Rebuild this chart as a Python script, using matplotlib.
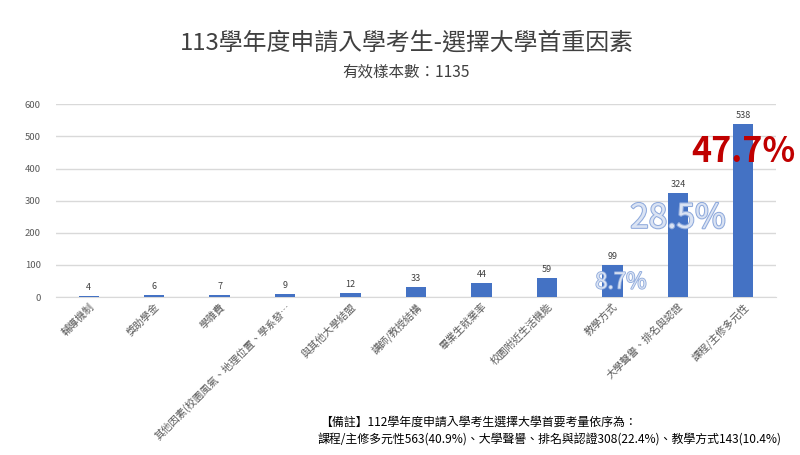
import matplotlib
matplotlib.use("Agg")
import matplotlib.pyplot as plt
import matplotlib.patheffects as pe

plt.rcParams['font.family'] = ['Noto Sans CJK TC', 'DejaVu Sans']

# ===== data =====
categories = ["輔導機制", "獎助學金", "學雜費", "其他因素(校園風氣、地理位置、學系發…",
              "與其他大學結盟", "講師/教授結構", "畢業生就業率", "校園附近生活機能",
              "教學方式", "大學聲譽、排名與認證", "課程/主修多元性"]
counts = [4, 6, 7, 9, 12, 33, 44, 59, 99, 324, 538]
pct_labels = ["8.7%", "28.5%", "47.7%"]
pct_index = [8, 9, 10]
pct_y = [47, 245, 452]

title = "113學年度申請入學考生-選擇大學首重因素"
subtitle = "有效樣本數：1135"
note1 = "【備註】112學年度申請入學考生選擇大學首要考量依序為："
note2 = "課程/主修多元性563(40.9%)、大學聲譽、排名與認證308(22.4%)、教學方式143(10.4%)"

# ===== plot =====
fig = plt.figure(figsize=(8, 4.55), dpi=100)
ax = fig.add_axes([0.07, 0.347, 0.9, 0.424])

x = range(len(categories))
bars = ax.bar(x, counts, width=0.31, color="#4472C4", zorder=3)
for b, v in zip(bars, counts):
    ax.text(b.get_x() + b.get_width() / 2, v + 12, str(v), ha="center", va="bottom",
            fontsize=6.5, color="#404040")

ax.set_xlim(-0.5, len(categories) - 0.5)
ax.set_ylim(0, 600)
ax.set_yticks(range(0, 601, 100))
ax.tick_params(axis="y", length=0, labelsize=6.8, labelcolor="#595959", pad=11)
ax.tick_params(axis="x", length=0, pad=3)
ax.set_xticks(list(x))
ax.set_xticklabels(categories, rotation=45, ha="right", va="top", rotation_mode="anchor",
                   fontsize=7.4, color="#595959")
ax.grid(axis="y", color="#D9D9D9", linewidth=1, zorder=0)
for s in ["top", "right", "left"]:
    ax.spines[s].set_visible(False)
ax.spines["bottom"].set_color("#D9D9D9")

# big percentage labels
ax.text(pct_index[2], pct_y[2], pct_labels[2], ha="center", va="center", fontsize=24.5,
        fontweight="bold", color="#C00000", zorder=5)
ax.text(pct_index[1], pct_y[1], pct_labels[1], ha="center", va="center", fontsize=24,
        color="#DAE3F3", zorder=5,
        path_effects=[pe.withStroke(linewidth=1.5, foreground="#8FAADC")])
ax.text(pct_index[0] + 0.13, pct_y[0], pct_labels[0], ha="center", va="center", fontsize=16,
        color="#DAE3F3", zorder=5,
        path_effects=[pe.withStroke(linewidth=1.2, foreground="#8FAADC")])

fig.text(0.508, 0.905, title, ha="center", va="center", fontsize=17.2, color="#404040")
fig.text(0.508, 0.842, subtitle, ha="center", va="center", fontsize=11.2, color="#404040")
fig.text(0.4, 0.073, note1, ha="left", va="center", fontsize=8.6, color="#000000")
fig.text(0.397, 0.033, note2, ha="left", va="center", fontsize=8.6, color="#000000")

plt.savefig("out.png", dpi=100)
